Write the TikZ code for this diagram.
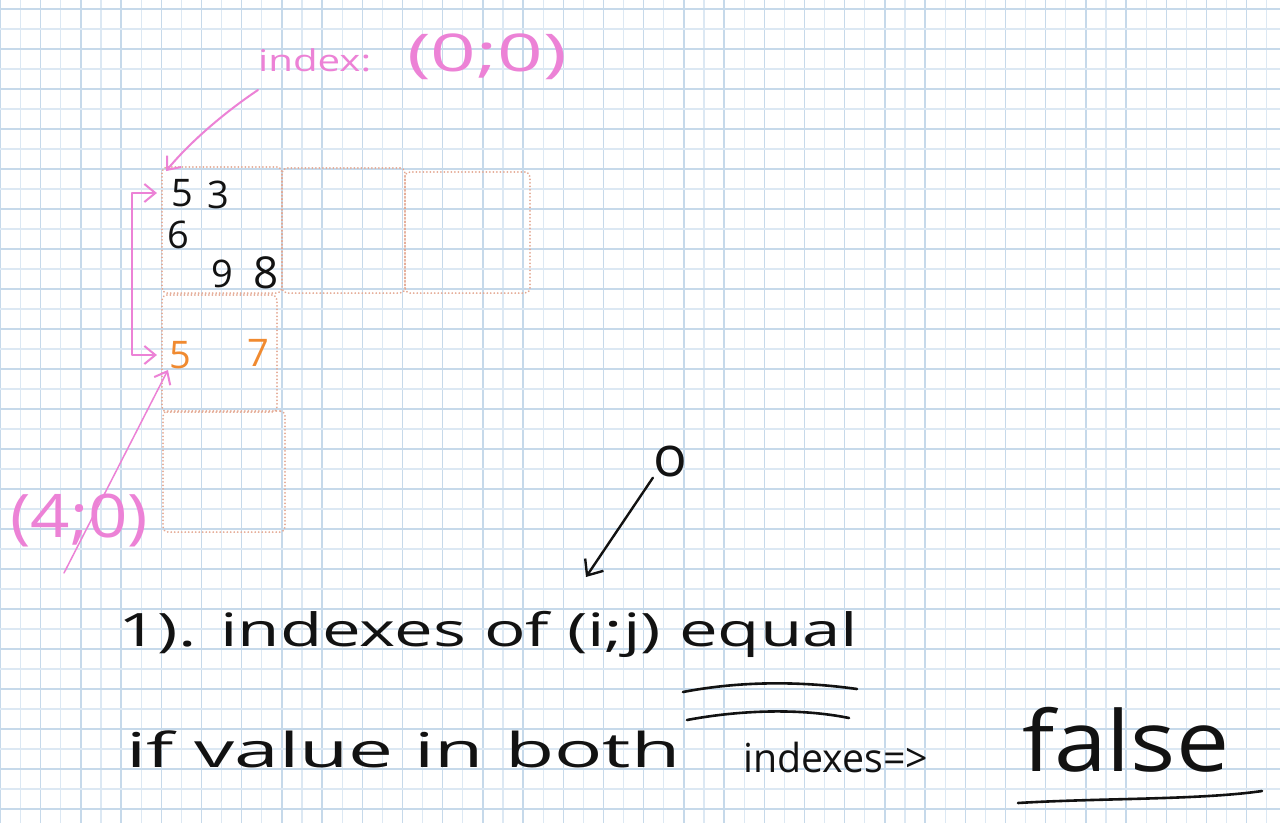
\documentclass[tikz,border=0pt]{standalone}
\usepackage{fontspec}
\setmainfont{Open Sans}
\usetikzlibrary{arrows.meta}
\definecolor{pinkink}{RGB}{236,130,214}
\definecolor{orangeink}{RGB}{240,138,48}
\definecolor{boxc}{RGB}{228,168,146}
\definecolor{gridminor}{RGB}{220,232,243}
\definecolor{gridmajor}{RGB}{198,217,234}
\definecolor{ink}{RGB}{18,18,18}
\newcommand\handtext[3]{\resizebox{#1}{\height}{\fontsize{#2}{#2}\selectfont #3}}
\begin{document}
\begin{tikzpicture}[x=1pt,y=-1pt,
  minorline/.style={draw=gridminor,line width=1.2pt},
  majorline/.style={draw=gridmajor,line width=1.4pt},
  cellbox/.style={draw=boxc,line width=1.9pt,line cap=round,dash pattern=on 0.1pt off 3.4pt,rounded corners=5pt,inner sep=0pt},
  pinktxt/.style={text=pinkink,inner sep=0pt},
  inktxt/.style={text=ink,inner sep=0pt},
  digit/.style={text=ink,inner sep=1pt,font=\fontsize{38}{38}\selectfont},
  odigit/.style={text=orangeink,inner sep=1pt,font=\fontsize{38}{38}\selectfont},
  pinkarrow/.style={draw=pinkink,line width=2pt,line cap=round,line join=round,-{Straight Barb[length=11pt,width=18pt,line width=2pt]}},
  inkarrow/.style={draw=ink,line width=2.4pt,line cap=round,-{Straight Barb[length=13pt,width=22pt,line width=2.4pt]}},
  inkline/.style={draw=ink,line width=2.6pt,line cap=round}]
\useasboundingbox (0,0) rectangle (1280,823);
\fill[white] (0,0) rectangle (1280,823);
% grid paper
\foreach \k in {1,3,...,63} {\draw[minorline] ({0.5+20.1*\k},0) -- ++(0,823);}
\foreach \k in {0,2,...,64} {\draw[majorline] ({0.5+20.1*\k},0) -- ++(0,823);}
\foreach \k in {1,3,...,41} {\draw[minorline] (0,{9+20*\k}) -- ++(1280,0);}
\foreach \k in {0,2,...,40} {\draw[majorline] (0,{9+20*\k}) -- ++(1280,0);}
% cells
\node[cellbox,minimum width=120pt,minimum height=126pt] (boxA) at (222,230) {};
\node[cellbox,minimum width=123pt,minimum height=125pt] (boxB) at (343.5,230.5) {};
\node[cellbox,minimum width=125pt,minimum height=121pt] (boxC) at (467.5,232.5) {};
\node[cellbox,minimum width=115pt,minimum height=117pt] (boxD) at (219.5,353.5) {};
\node[cellbox,minimum width=122pt,minimum height=121pt] (boxE) at (224,471.5) {};
% digits
\node[digit] (d5) at (182,193) {5};
\node[digit] (d3) at (218,195) {3};
\node[digit] (d6) at (178,235) {6};
\node[digit] (d9) at (222,274) {9};
\node[digit,font=\fontsize{44}{44}\selectfont] (d8) at (266,273) {8};
\node[odigit] (o5) at (180,355) {5};
\node[odigit] (o7) at (258,353) {7};
% labels
\node[pinktxt,anchor=base west] (idx) at (258,71) {\handtext{113pt}{30}{index:}\hspace{36pt}\handtext{160pt}{52}{(0;0)}};
\node[pinktxt,anchor=base west] (f40) at (10,537) {\handtext{138pt}{60}{(4;0)}};
\node[inktxt] (zero) at (670,462) {\fontsize{56}{56}\selectfont o};
\node[inktxt,anchor=base west] (line1) at (118,646) {\handtext{740pt}{46}{1). indexes of (i;j) equal}};
\node[inktxt,anchor=base west] (line2) at (126,767) {\handtext{554pt}{48}{if value in both}};
\node[inktxt,anchor=base west] (idxs) at (743,772) {\handtext{185pt}{40}{indexes=>}};
\node[inktxt,anchor=base west] (fls) at (1022,771) {\handtext{207pt}{84}{false}};
% connectors
\coordinate (a0) at (258,90);
\draw[pinkarrow] (a0) .. controls (225,112) and (190,142) .. ([shift={(5,5)}]boxA.north west);
\draw[pinkarrow,{Straight Barb[length=11pt,width=18pt,line width=2pt]}-{Straight Barb[length=11pt,width=18pt,line width=2pt]},shorten <=13pt,shorten >=11pt] (d5.west) -- ++(-38,0) |- (o5.west);
\coordinate (b0) at (64,573);
\draw[pinkarrow,line width=1.5pt] (b0) -- (o5.south west);
\coordinate (jtip) at (586,577);
\draw[inkarrow] (zero.south west) -- (jtip);
% underlines
\draw[inkline] (683,692) .. controls (740,681) and (800,681) .. (857,689);
\draw[inkline] (687,720) .. controls (740,710) and (800,708) .. (849,718);
\draw[inkline] (1018,803) .. controls (1100,798) and (1200,800) .. (1262,791);
\end{tikzpicture}
\end{document}
